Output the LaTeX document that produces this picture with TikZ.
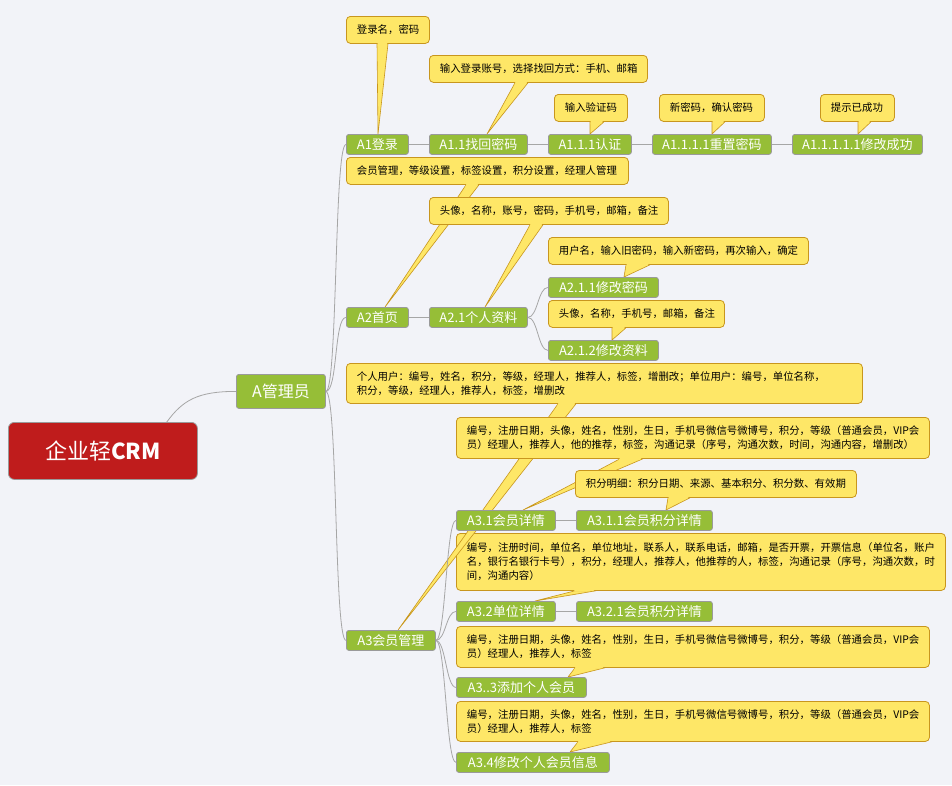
\documentclass[tikz,border=0pt]{standalone}
\usepackage{fontspec}
\setmainfont{Noto Sans CJK SC}
\usetikzlibrary{calc}
\pgfdeclarelayer{back}
\pgfdeclarelayer{ptrlow}
\pgfdeclarelayer{boxlow}
\pgfdeclarelayer{ptrlayer}
\pgfsetlayers{back,ptrlow,boxlow,ptrlayer,main}
\definecolor{bgc}{HTML}{F2F3F8}
\definecolor{gfill}{HTML}{96BE37}
\definecolor{gbord}{HTML}{9A9A9A}
\definecolor{rfill}{HTML}{BF1C1C}
\definecolor{yfill}{HTML}{FEE767}
\definecolor{ybord}{HTML}{C8961E}
\definecolor{connc}{HTML}{A6A6A6}
\tikzset{
  gn/.style={draw=gbord, fill=gfill, rounded corners=2.5pt, line width=0.8pt, text=white,
    font=\fontsize{13}{15}\selectfont, inner sep=0pt, minimum height=20, anchor=north west},
  cn/.style={draw=ybord, fill=yfill, rounded corners=4pt, line width=0.8pt, text=black,
    font=\fontsize{10.4}{14}\selectfont, inner xsep=10.5pt, inner ysep=0pt, align=left, anchor=north west},
  ptrs/.style={draw=ybord, fill=yfill, line width=0.6pt, line join=round},
  cl/.style={draw=connc, line width=0.8pt},
}
\newcommand\mkptr[5]{%
  \coordinate (#1b1) at ($(#1.south west)+(#2,0)$);
  \coordinate (#1b2) at ($(#1.south west)+(#3,0)$);
  \coordinate (#1tp) at ($(#4.north west)+(#5,0)$);
  \filldraw[ptrs] (#1b1) -- (#1tp) -- (#1b2) -- cycle;}
\newcommand\mkpatch[1]{%
  \fill[yfill] ($(#1b1)+(0.7,-1.5)$) -- ($(#1b2)+(-0.7,-1.5)$) -- ($(#1b2)!2.5pt!(#1tp)+(-0.7,0)$) -- ($(#1b1)!2.5pt!(#1tp)+(0.7,0)$) -- cycle;}
\begin{document}
\begin{tikzpicture}[x=1pt,y=-1pt]
\begin{pgfonlayer}{back}
\fill[bgc] (0,0) rectangle (952,785);
\end{pgfonlayer}
\useasboundingbox (0,0) rectangle (952,785);

% root and first level
\node[draw=gbord, fill=rfill, rounded corners=6pt, line width=0.8pt, minimum width=189, minimum height=57,
  anchor=north west, inner sep=0pt, text=white, font=\fontsize{22}{26}\selectfont] (root) at (8,422) {企业轻\textbf{CRM}};
\node[gn, minimum width=89, minimum height=34, font=\fontsize{16}{18}\selectfont] (am) at (236,374) {A管理员};

% green topics
\node[gn, minimum width=62] (a1) at (346,134) {A1登录};
\node[gn, minimum width=98] (a11) at (429,134) {A1.1找回密码};
\node[gn, minimum width=83] (a111) at (548,134) {A1.1.1认证};
\node[gn, minimum width=119] (a1111) at (652,134) {A1.1.1.1重置密码};
\node[gn, minimum width=130] (a11111) at (792,134) {A1.1.1.1.1修改成功};
\node[gn, minimum width=62] (a2) at (346,307) {A2首页};
\node[gn, minimum width=98] (a21) at (429,307) {A2.1个人资料};
\node[gn, minimum width=110] (a211) at (548,277) {A2.1.1修改密码};
\node[gn, minimum width=110] (a212) at (548,340) {A2.1.2修改资料};
\node[gn, minimum width=89] (a3) at (346,630) {A3会员管理};
\node[gn, minimum width=99] (a31) at (456,510) {A3.1会员详情};
\node[gn, minimum width=136] (a311) at (576,510) {A3.1.1会员积分详情};
\node[gn, minimum width=99] (a32) at (456,601) {A3.2单位详情};
\node[gn, minimum width=136] (a321) at (576,601) {A3.2.1会员积分详情};
\node[gn, minimum width=130] (a33) at (456,677) {A3..3添加个人会员};
\node[gn, minimum width=153] (a34) at (456,752) {A3.4修改个人会员信息};

% callouts
\node[cn, text width=62, minimum height=27] (c1) at (346,16) {登录名，密码};
\node[cn, text width=197, minimum height=27] (c2) at (429,55) {输入登录账号，选择找回方式：手机、邮箱};
\node[cn, text width=52, minimum height=27] (c3) at (554,94) {输入验证码};
\node[cn, text width=84, minimum height=27] (c4) at (659,94) {新密码，确认密码};
\node[cn, text width=53, minimum height=27] (c5) at (820,94) {提示已成功};
\node[cn, text width=261, minimum height=27] (c6) at (346,157) {会员管理，等级设置，标签设置，积分设置，经理人管理};
\node[cn, text width=218, minimum height=27] (c7) at (429,197) {头像，名称，账号，密码，手机号，邮箱，备注};
\node[cn, text width=239, minimum height=27] (c8) at (548,237) {用户名，输入旧密码，输入新密码，再次输入，确定};
\node[cn, text width=155, minimum height=27] (c9) at (548,300) {头像，名称，手机号，邮箱，备注};
\node[cn, text width=495, minimum height=40] (c10) at (346,363) {个人用户：编号，姓名，积分，等级，经理人，推荐人，标签，增删改；单位用户：编号，单位名称，\\积分，等级，经理人，推荐人，标签，增删改};
\node[cn, text width=452, minimum height=41] (c11) at (456,417) {编号，注册日期，头像，姓名，性别，生日，手机号微信号微博号，积分，等级（普通会员，VIP会\\员）经理人，推荐人，他的推荐，标签，沟通记录（序号，沟通次数，时间，沟通内容，增删改）};
\node[cn, text width=260, minimum height=27] (c12) at (575,470) {积分明细：积分日期、来源、基本积分、积分数、有效期};
\begin{pgfonlayer}{boxlow}
\node[cn, text width=468, minimum height=57] (c13) at (456,533) {编号，注册时间，单位名，单位地址，联系人，联系电话，邮箱，是否开票，开票信息（单位名，账户\\名，银行名银行卡号），积分，经理人，推荐人，他推荐的人，标签，沟通记录（序号，沟通次数，时\\间，沟通内容）};
\end{pgfonlayer}
\node[cn, text width=452, minimum height=41] (c14) at (456,626) {编号，注册日期，头像，姓名，性别，生日，手机号微信号微博号，积分，等级（普通会员，VIP会\\员）经理人，推荐人，标签};
\node[cn, text width=452, minimum height=40] (c15) at (456,701) {编号，注册日期，头像，姓名，性别，生日，手机号微信号微博号，积分，等级（普通会员，VIP会\\员）经理人，推荐人，标签};

% pointers
\begin{pgfonlayer}{ptrlow}
\mkptr{c13}{119}{140}{a32}{79}
\end{pgfonlayer}
\begin{pgfonlayer}{ptrlayer}
\mkptr{c1}{31}{42}{a1}{32}
\mkptr{c2}{86}{99}{a11}{58}
\mkptr{c3}{36}{50}{a111}{42}
\mkptr{c4}{53}{66}{a1111}{60}
\mkptr{c5}{38}{51}{a11111}{66}
\mkptr{c6}{120}{133}{a2}{39}
\mkptr{c7}{101}{114}{a21}{56}
\mkptr{c8}{78}{102}{a211}{76}
\mkptr{c9}{64}{78}{a212}{64}
\mkptr{c10}{212}{230}{a3}{52}
\mkptr{c11}{164}{187}{a31}{67}
\mkptr{c12}{93}{115}{a311}{90}
\mkptr{c14}{119}{149}{a33}{112}
\mkptr{c15}{122}{156}{a34}{114}
% connectors
\draw[cl] ($(root.north east)+(-31,0)$) .. controls +(16,-22) and +(-38,0) .. (am.west);
\draw[cl] (am.east) .. controls +(12,0) and +(-12,0) .. (a1.west);
\draw[cl] (am.east) .. controls +(12,0) and +(-12,0) .. (a2.west);
\draw[cl] (am.east) .. controls +(12,0) and +(-12,0) .. (a3.west);
\draw[cl] (a1.east) -- (a11.west);
\draw[cl] (a11.east) -- (a111.west);
\draw[cl] (a111.east) -- (a1111.west);
\draw[cl] (a1111.east) -- (a11111.west);
\draw[cl] (a2.east) -- (a21.west);
\draw[cl] (a21.east) .. controls +(10,0) and +(-10,0) .. (a211.west);
\draw[cl] (a21.east) .. controls +(10,0) and +(-10,0) .. (a212.west);
\draw[cl] (a3.east) .. controls +(10,0) and +(-10,0) .. (a31.west);
\draw[cl] (a3.east) .. controls +(10,0) and +(-10,0) .. (a32.west);
\draw[cl] (a3.east) .. controls +(10,0) and +(-10,0) .. (a33.west);
\draw[cl] (a3.east) .. controls +(10,0) and +(-10,0) .. (a34.west);
\draw[cl] (a31.east) -- (a311.west);
\draw[cl] (a32.east) -- (a321.west);
\end{pgfonlayer}

% patches joining pointers to their callouts
\mkpatch{c1}\mkpatch{c2}\mkpatch{c3}\mkpatch{c4}\mkpatch{c5}\mkpatch{c6}\mkpatch{c7}
\mkpatch{c8}\mkpatch{c9}\mkpatch{c10}\mkpatch{c11}\mkpatch{c12}\mkpatch{c13}\mkpatch{c14}\mkpatch{c15}
\end{tikzpicture}
\end{document}
